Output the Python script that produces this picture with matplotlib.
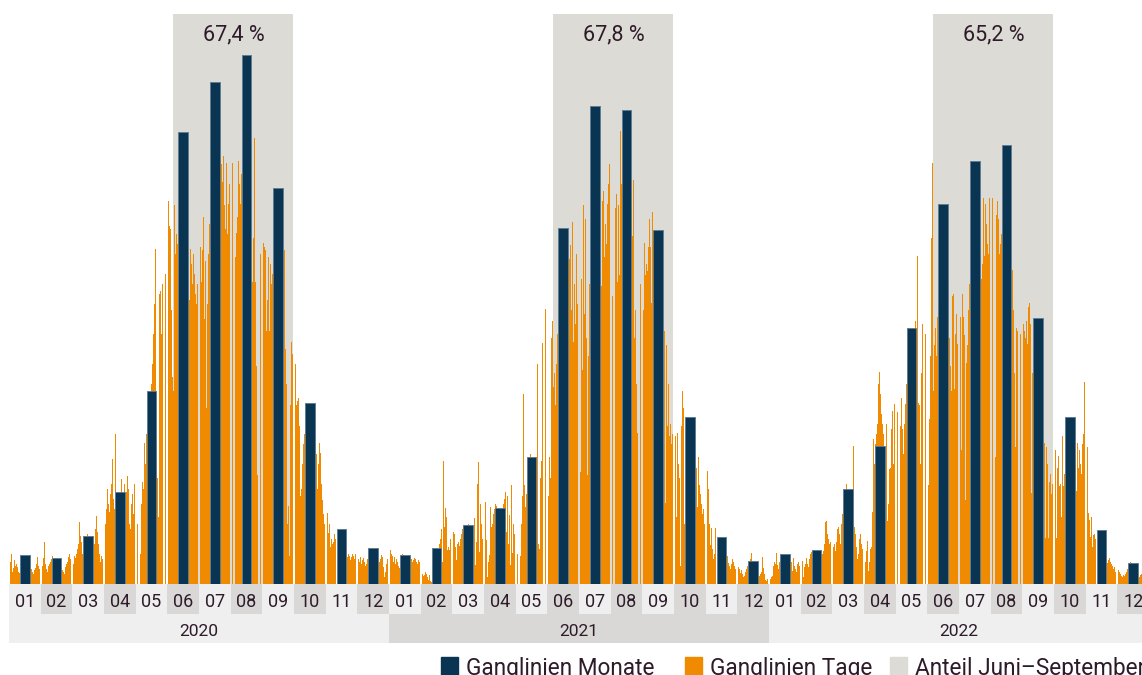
import matplotlib.pyplot as plt
from matplotlib.patches import Rectangle

plt.rcParams['font.family'] = ['Roboto', 'DejaVu Sans']

# colours
NAVY = '#0a3552'
ORANGE = '#f08a00'
SHADE = '#dcdbd6'
LIGHT = '#efefef'
DARK = '#d9d8d6'
TEXT = '#2e1b29'

years = ['2020', '2021', '2022']
months = ['01', '02', '03', '04', '05', '06', '07', '08', '09', '10', '11', '12']
share_jun_sep = ['67,4 %', '67,8 %', '65,2 %']

# monthly hydrograph (relative units)
monthly_2020 = [29, 26, 48, 92, 193, 452, 502, 529, 396, 181, 55, 36]
monthly_2021 = [29, 36, 59, 76, 127, 356, 478, 474, 354, 167, 47, 23]
monthly_2022 = [30, 34, 95, 138, 256, 380, 423, 439, 266, 167, 54, 21]

# daily hydrograph, one list per month (relative units)
daily_2020 = [
    [22, 30, 12, 16, 24, 18, 20, 17, 12, 11, 10, 14, 18, 22, 25, 28, 26, 20, 18, 22, 18, 16, 15, 12, 10, 14, 16, 20, 27, 18, 15],
    [18, 26, 42, 20, 15, 12, 18, 20, 22, 25, 28, 26, 24, 20, 14, 8, 4, 16, 20, 18, 14, 12, 10, 17, 20, 22, 27, 30, 25],
    [20, 28, 26, 30, 35, 40, 62, 48, 42, 30, 25, 26, 28, 38, 50, 42, 35, 30, 20, 15, 22, 32, 40, 55, 68, 52, 40, 30, 22, 28, 25],
    [60, 75, 95, 80, 72, 90, 100, 125, 85, 75, 150, 90, 70, 60, 78, 82, 105, 90, 75, 100, 88, 92, 108, 95, 60, 55, 80, 90, 70, 100],
    [60, 45, 74, 56, 30, 80, 102, 95, 141, 120, 150, 160, 140, 170, 180, 200, 220, 250, 280, 335, 142, 106, 67, 290, 293, 250, 300, 390, 391, 360, 310],
    [383, 358, 355, 274, 207, 193, 379, 330, 350, 340, 360, 380, 370, 350, 360, 380, 390, 370, 391, 363, 339, 284, 335, 320, 300, 330, 310, 290, 280, 300],
    [337, 302, 334, 367, 265, 323, 176, 280, 330, 360, 340, 380, 400, 410, 420, 430, 440, 420, 410, 400, 463, 425, 420, 402, 428, 379, 355, 421, 350, 380, 400],
    [421, 362, 490, 421, 327, 351, 367, 423, 400, 380, 410, 420, 430, 440, 420, 410, 400, 420, 430, 410, 446, 302, 346, 446, 302, 218, 109, 228, 190, 300, 330],
    [341, 337, 334, 253, 284, 327, 253, 320, 300, 310, 300, 290, 300, 310, 300, 290, 280, 290, 300, 330, 312, 334, 235, 200, 60, 78, 28, 179, 242, 230],
    [220, 179, 183, 186, 158, 88, 95, 120, 140, 150, 160, 170, 175, 170, 160, 150, 140, 130, 120, 150, 179, 141, 130, 95, 120, 141, 131, 100, 84, 70, 60],
    [71, 51, 60, 37, 45, 40, 42, 50, 45, 40, 38, 40, 45, 50, 95, 45, 40, 38, 35, 32, 37, 27, 30, 28, 24, 27, 30, 28, 25, 30],
    [25, 22, 27, 20, 24, 26, 22, 18, 20, 25, 28, 30, 28, 25, 22, 20, 24, 26, 28, 22, 20, 18, 22, 25, 29, 27, 17, 7, 12, 20, 25],
]
daily_2021 = [
    [34, 30, 28, 22, 27, 20, 25, 22, 18, 16, 20, 25, 28, 30, 28, 25, 22, 20, 24, 26, 28, 27, 25, 22, 24, 26, 25, 22, 20, 24, 22],
    [10, 8, 9, 12, 10, 7, 4, 9, 3, 2, 5, 8, 15, 20, 25, 30, 40, 45, 55, 22, 123, 57, 76, 67, 34, 37, 34, 45],
    [52, 50, 37, 24, 40, 42, 38, 45, 50, 55, 48, 45, 50, 55, 58, 60, 55, 50, 48, 45, 42, 49, 66, 19, 42, 100, 122, 32, 80, 60, 45],
    [82, 44, 7, 22, 29, 77, 57, 60, 70, 75, 80, 78, 72, 70, 68, 65, 70, 75, 80, 85, 92, 52, 88, 40, 69, 19, 99, 31, 60, 50],
    [30, 21, 77, 18, 28, 60, 88, 190, 99, 77, 90, 100, 110, 120, 130, 120, 110, 100, 110, 120, 32, 220, 40, 35, 106, 123, 241, 130, 250, 260, 275],
    [88, 127, 106, 246, 263, 197, 211, 179, 220, 250, 280, 300, 320, 330, 340, 330, 320, 310, 300, 348, 323, 325, 339, 274, 362, 242, 300, 260, 330, 280],
    [112, 305, 214, 379, 270, 365, 246, 109, 228, 300, 320, 340, 360, 370, 380, 370, 360, 350, 340, 337, 334, 316, 298, 383, 393, 327, 360, 340, 380, 400, 420],
    [288, 302, 369, 425, 376, 390, 302, 379, 309, 453, 400, 410, 420, 430, 440, 430, 420, 410, 400, 390, 376, 348, 404, 246, 274, 200, 151, 162, 180, 250, 300],
    [274, 341, 309, 320, 313, 337, 365, 337, 281, 372, 350, 340, 330, 320, 310, 300, 290, 280, 270, 260, 225, 253, 81, 239, 158, 200, 148, 160, 140, 150],
    [148, 67, 151, 120, 106, 18, 158, 193, 176, 60, 120, 130, 140, 150, 140, 130, 120, 110, 100, 90, 21, 88, 116, 77, 127, 99, 90, 80, 70, 75, 60],
    [113, 95, 60, 39, 56, 35, 25, 30, 56, 40, 45, 47, 40, 38, 35, 30, 28, 25, 30, 32, 34, 28, 21, 18, 15, 20, 25, 22, 18, 15],
    [17, 15, 11, 14, 10, 7, 8, 12, 15, 18, 20, 23, 25, 31, 22, 20, 15, 10, 7, 5, 4, 6, 8, 10, 12, 27, 16, 10, 4, 3, 5],
]
daily_2022 = [
    [5, 7, 8, 18, 22, 20, 31, 19, 15, 22, 25, 28, 30, 26, 24, 22, 20, 18, 20, 10, 28, 16, 22, 13, 26, 18, 15, 12, 20, 22, 18],
    [23, 7, 17, 20, 26, 20, 17, 25, 30, 32, 34, 33, 30, 28, 25, 22, 20, 13, 8, 30, 33, 40, 62, 63, 50, 45, 40, 42],
    [37, 40, 33, 42, 55, 57, 50, 40, 60, 70, 80, 90, 95, 100, 95, 90, 85, 80, 75, 84, 92, 138, 57, 50, 37, 25, 30, 45, 50, 40, 35],
    [22, 33, 43, 13, 22, 35, 37, 72, 145, 120, 140, 150, 160, 200, 212, 190, 170, 160, 150, 130, 105, 160, 63, 80, 115, 116, 155, 173, 120, 180],
    [172, 123, 116, 141, 158, 186, 155, 130, 160, 180, 200, 220, 240, 250, 240, 230, 220, 210, 200, 263, 211, 328, 181, 179, 120, 211, 260, 240, 200, 180, 250],
    [99, 165, 228, 346, 421, 193, 239, 256, 228, 267, 280, 300, 320, 330, 340, 330, 320, 310, 300, 316, 309, 246, 218, 193, 288, 290, 195, 250, 270, 240],
    [267, 134, 290, 267, 249, 84, 221, 239, 274, 300, 320, 340, 360, 370, 380, 370, 360, 340, 330, 305, 358, 334, 305, 320, 386, 328, 380, 360, 340, 330, 386],
    [386, 330, 290, 235, 127, 369, 383, 365, 330, 340, 350, 360, 370, 380, 370, 360, 350, 340, 330, 320, 293, 314, 274, 211, 137, 256, 253, 240, 230, 220, 250],
    [260, 253, 246, 263, 240, 277, 281, 260, 91, 211, 230, 240, 250, 260, 250, 240, 230, 220, 210, 209, 148, 141, 46, 137, 120, 46, 102, 110, 90, 100],
    [134, 46, 116, 128, 98, 100, 67, 148, 98, 110, 120, 130, 140, 150, 140, 130, 120, 110, 100, 90, 81, 120, 93, 141, 116, 134, 120, 110, 140, 150, 202],
    [137, 71, 64, 47, 67, 37, 49, 50, 45, 40, 42, 45, 50, 48, 46, 44, 42, 40, 38, 35, 17, 21, 24, 26, 22, 20, 18, 15, 17, 12],
    [14, 12, 10, 8, 7, 9, 8, 10, 12, 15, 18, 20, 22, 20, 18, 16, 14, 12, 10, 8, 6, 5, 7, 9, 10, 12, 14, 12, 10, 8, 6],
]

monthly = [monthly_2020, monthly_2021, monthly_2022]
daily = [daily_2020, daily_2021, daily_2022]

W, H = 1142, 675
fig = plt.figure(figsize=(W / 100, H / 100), dpi=100)

# main plot area (runs a bit past the right edge, as in the original)
ax = fig.add_axes([9 / W, 91 / H, 1140 / W, 570 / H])
ax.set_xlim(0, 36)
ax.set_ylim(0, 570)
ax.axis('off')

# June-September shading with share label
for i, label in enumerate(share_jun_sep):
    x0 = i * 12 + 5 + 0.19
    x1 = i * 12 + 8 + 0.98
    ax.axvspan(x0, x1, color=SHADE, lw=0, zorder=0)
    ax.text((x0 + x1) / 2, 549, label, ha='center', va='center',
            fontsize=15.5, color=TEXT)

# daily bars, spread over each month with a small gap at month borders
dx, dh, dw = [], [], []
for i, year_days in enumerate(daily):
    for m, days in enumerate(year_days):
        start = i * 12 + m + 0.03
        step = 0.94 / len(days)
        for d, v in enumerate(days):
            dx.append(start + (d + 0.5) * step)
            dh.append(v)
            dw.append(step * 0.92)
ax.bar(dx, dh, width=dw, color=ORANGE, linewidth=0, zorder=2)

# monthly bars
mx, mh = [], []
for i, vals in enumerate(monthly):
    for m, v in enumerate(vals):
        mx.append(i * 12 + m + 0.5)
        mh.append(v)
ax.bar(mx, mh, width=0.31, color=NAVY, edgecolor='#5f7d93',
       linewidth=0.7, zorder=3)

# month / year label strip
lab = fig.add_axes([9 / W, 32 / H, 1140 / W, 59 / H])
lab.set_xlim(0, 36)
lab.set_ylim(59, 0)
lab.axis('off')
for i, yr in enumerate(years):
    lab.add_patch(Rectangle((i * 12, 0), 12, 59, color=LIGHT if i % 2 == 0 else DARK, lw=0))
    for m, name in enumerate(months):
        lab.add_patch(Rectangle((i * 12 + m, 0), 1, 30,
                                color=DARK if m % 2 == 1 else LIGHT, lw=0))
        lab.text(i * 12 + m + 0.5, 18, name, ha='center', va='center',
                 fontsize=13, color=TEXT)
    lab.text(i * 12 + 6, 47, yr, ha='center', va='center',
             fontsize=12.5, color=TEXT)

# legend along the bottom
legend_items = [('Ganglinien Monate', NAVY, 441),
                ('Ganglinien Tage', ORANGE, 685),
                ('Anteil Juni\u2013September', SHADE, 890)]
for name, col, px in legend_items:
    fig.patches.append(Rectangle((px / W, 0), 17 / W, 18 / H, color=col,
                                 transform=fig.transFigure, figure=fig))
    fig.text((px + 25) / W, 7 / H, name, ha='left', va='center',
             fontsize=16.3, color=TEXT)

fig.savefig('out.png', dpi=100)
